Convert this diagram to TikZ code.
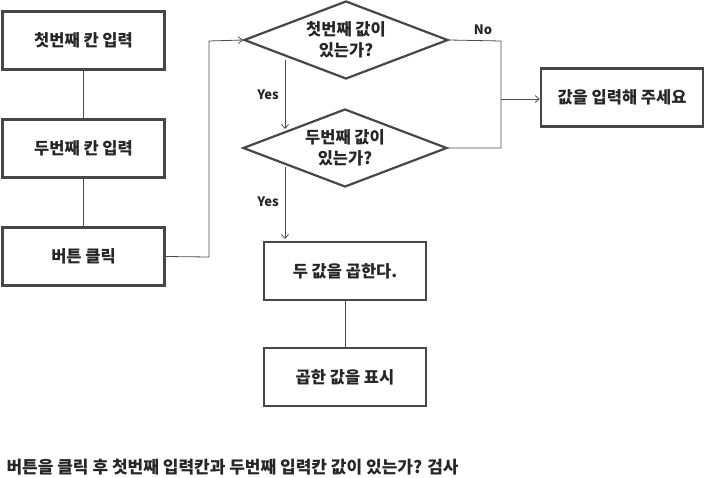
\documentclass[tikz,border=0pt]{standalone}
\usepackage{fontspec}
\setmainfont{Noto Sans CJK KR}
\usetikzlibrary{shapes.geometric,arrows.meta}
\begin{document}
\begin{tikzpicture}[x=1pt,y=-1pt,
  boxstyle/.style={draw=black!72,line width=2.6pt,minimum width=162pt,minimum height=58pt,inner sep=0pt,font=\fontsize{16.5}{18}\selectfont\bfseries,text=black!85},
  decstyle/.style={draw=black!72,line width=2.2pt,diamond,aspect=2.6,minimum width=204pt,minimum height=78pt,inner sep=0pt,align=center,font=\fontsize{16.5}{21}\selectfont\bfseries,text=black!85},
  conn/.style={draw=black!70,line width=0.8pt},
  arr/.style={conn,-{Straight Barb[length=4pt,width=7pt]}},
  lbl/.style={font=\fontsize{13}{14}\selectfont\bfseries,text=black!85}]
\useasboundingbox (0,0) rectangle (706,477);
\node[boxstyle] (b1) at (83.5,40.5) {첫번째 칸 입력};
\node[boxstyle] (b2) at (83.5,148.5) {두번째 칸 입력};
\node[boxstyle] (b3) at (83.5,256.5) {버튼 클릭};
\node[decstyle] (d1) at (346,40) {첫번째 값이\\있는가?};
\node[decstyle] (d2) at (345,148) {두번째 값이\\있는가?};
\node[boxstyle] (b4) at (622,97.5) {값을 입력해 주세요};
\node[boxstyle] (b5) at (345,271) {두 값을 곱한다.};
\node[boxstyle] (b6) at (345,377) {곱한 값을 표시};
\coordinate (c1) at (209,257);
\coordinate (c2) at (209,41);
\coordinate (r1) at (501,41);
\coordinate (r2) at (501,148);
\coordinate (r3) at (501,99);
\coordinate (y1a) at (285,60);
\coordinate (y1b) at (285,129);
\coordinate (y2a) at (285,167);
\coordinate (y2b) at (285,239);
\draw[conn] (b1) -- (b2);
\draw[conn] (b2) -- (b3);
\draw[arr] (b3.east) -- (c1) -- (c2) -- (d1.west);
\draw[conn] (d1.east) -- (r1) -- (r2) -- (d2.east);
\draw[arr] (r3) -- (b4.west |- r3);
\draw[arr] (y1a) -- (y1b);
\draw[arr] (y2a) -- (y2b);
\draw[conn] (b5) -- (b6);
\node[lbl] (yes1) at (268,95) {Yes};
\node[lbl] (yes2) at (268,202) {Yes};
\node[lbl] (no) at (483,30) {No};
\node[anchor=west,font=\fontsize{17}{18}\selectfont\bfseries,text=black!85] (cap) at (3,467) {버튼을 클릭 후 첫번째 입력칸과 두번째 입력칸 값이 있는가? 검사};
\end{tikzpicture}
\end{document}
